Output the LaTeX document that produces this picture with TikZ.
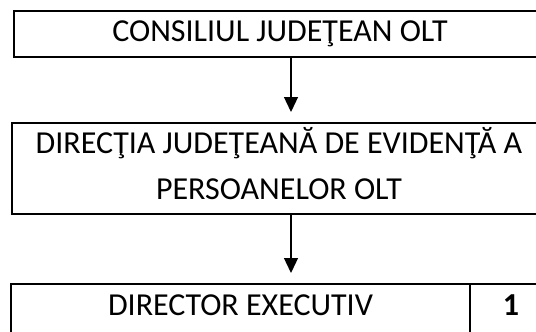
\documentclass[tikz,border=0pt]{standalone}
\usepackage{fontspec}
\setmainfont{Carlito}
\usetikzlibrary{arrows.meta}
\begin{document}
\begin{tikzpicture}[x=1pt, y=-1pt,
    every node/.style={draw, line width=2pt, inner sep=0pt, anchor=north west, font=\fontsize{32}{46}\selectfont},
    arr/.style={line width=1.3pt, -{Triangle[width=14pt,length=15pt]}, shorten >=10pt}]
      \useasboundingbox (0,0) rectangle (536,332);
      \clip (0,0) rectangle (536,332);
      \node[minimum width=532pt, minimum height=46pt] (cj) at (13,10) {CONSILIUL JUDEŢEAN OLT};
      \node[minimum width=534pt, text height=76pt, text depth=15pt, align=center] (dj) at (11,122) {DIRECŢIA JUDEŢEANĂ DE EVIDENŢĂ A\\PERSOANELOR OLT};
      \node[minimum width=459pt, text height=31pt, text depth=40pt] (de) at (10,283) {DIRECTOR EXECUTIV};
      \node[minimum width=82pt, text height=31pt, text depth=40pt] (nr) at (469,283) {\bfseries 1};
      \coordinate (ax) at (291,0);

      \draw[arr] (cj.south -| ax) -- (dj.north -| ax);
      \draw[arr] (dj.south -| ax) -- (de.north -| ax);
    \end{tikzpicture}
\end{document}
